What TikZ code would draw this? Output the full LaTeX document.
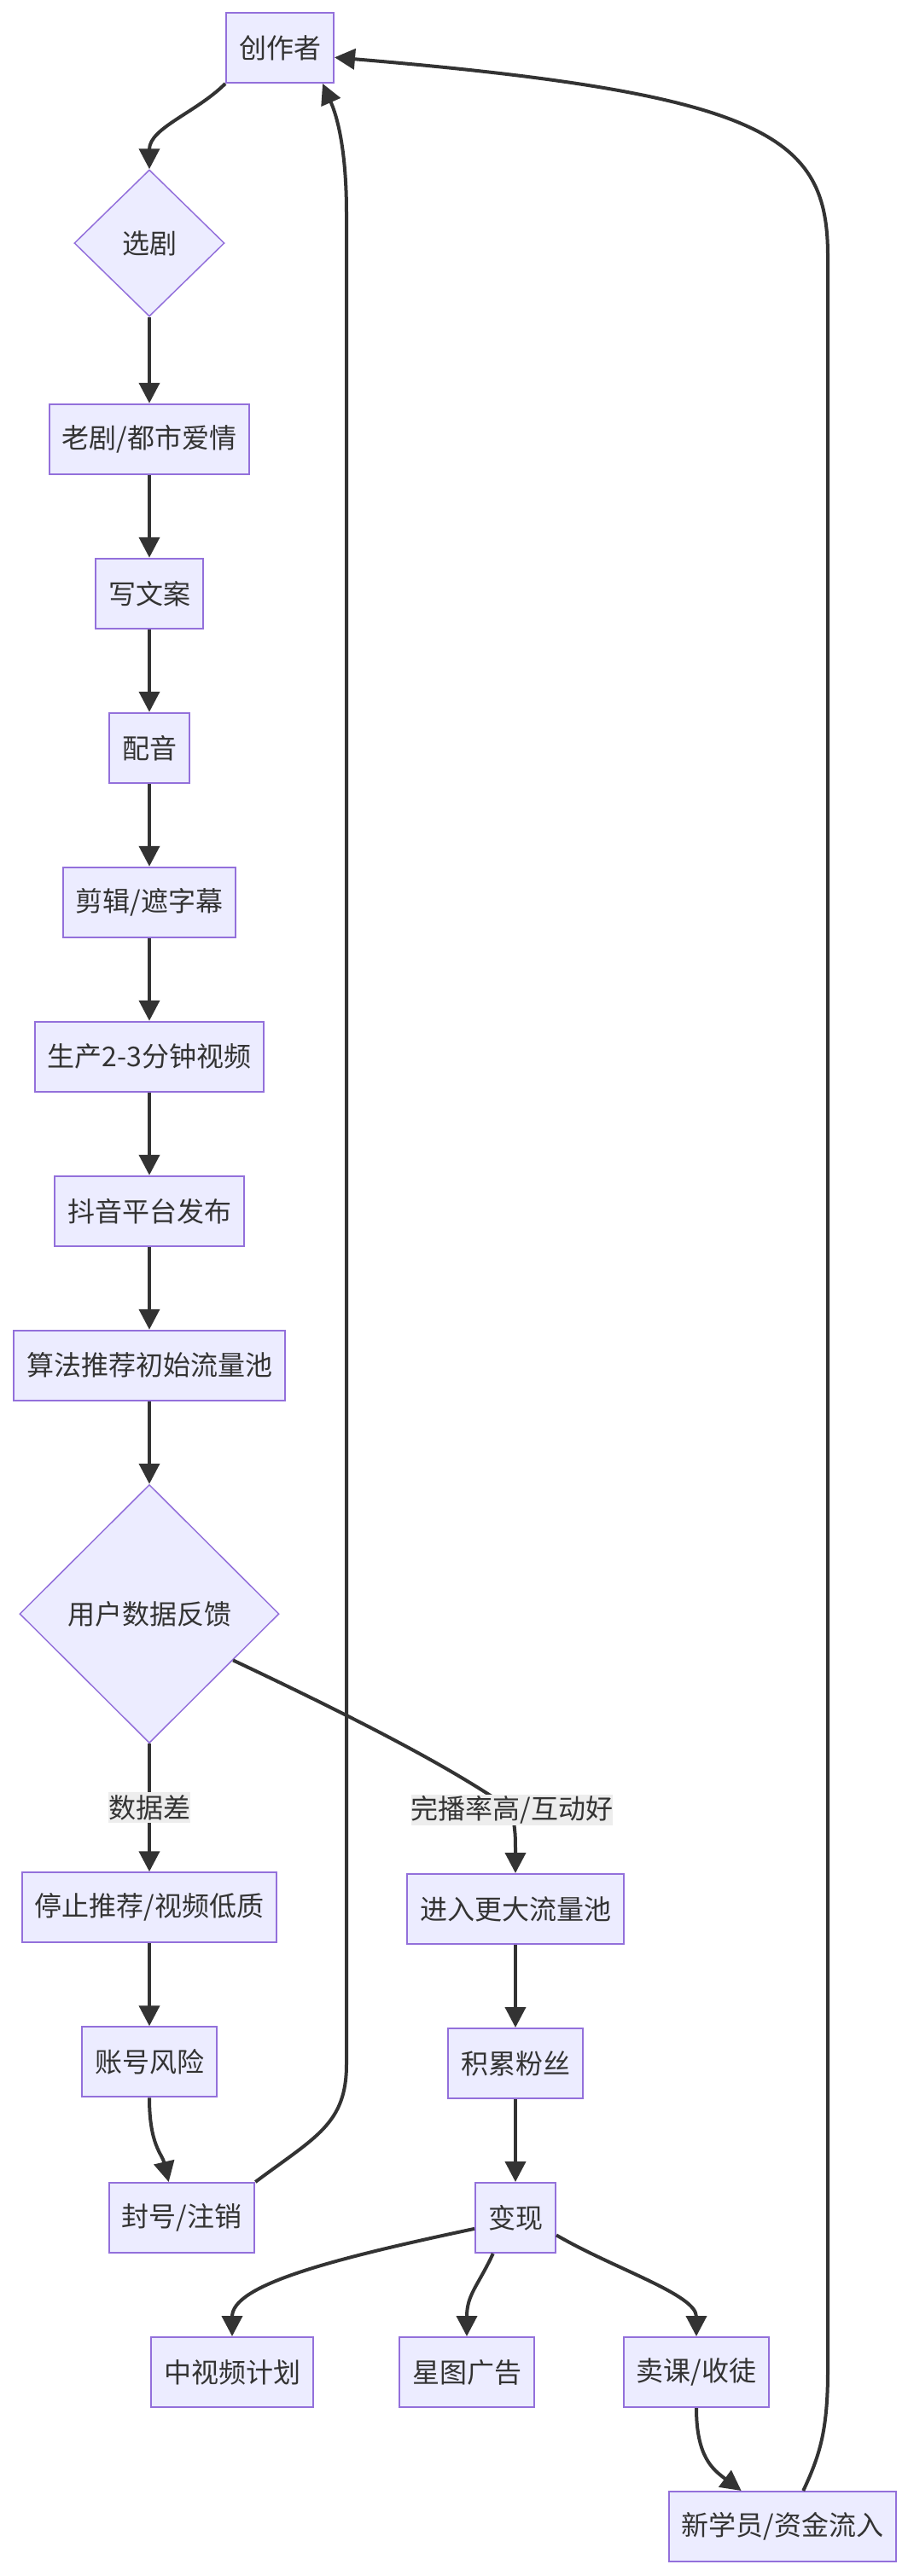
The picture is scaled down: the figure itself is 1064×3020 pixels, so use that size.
\documentclass[tikz,border=0pt]{standalone}
\usepackage{fontspec}
\setmainfont{Noto Sans CJK SC}
\usetikzlibrary{positioning, arrows.meta, shapes.geometric}
\definecolor{nodefill}{HTML}{ECECFF}
\definecolor{nodeline}{HTML}{9370DB}
\definecolor{edgeline}{HTML}{333333}
\definecolor{labelbg}{HTML}{EDEDED}

\begin{document}
\begin{tikzpicture}[
  x=1pt, y=-1pt,
  node distance=97pt,
  box/.style={draw=nodeline, fill=nodefill, line width=2pt, minimum height=82pt,
              inner xsep=15pt, inner ysep=0pt, text=edgeline,
              font=\fontsize{32pt}{38pt}\selectfont},
  choice/.style={diamond, draw=nodeline, fill=nodefill, line width=1.5pt, inner sep=0pt,
                 text=edgeline, font=\fontsize{32pt}{38pt}\selectfont},
  tag/.style={fill=labelbg, inner sep=0pt, minimum height=36pt, text=edgeline,
              font=\fontsize{32pt}{38pt}\selectfont},
  arrow/.style={-{Triangle[length=24pt, width=24pt]}, line width=4pt, edgeline}
]
  \useasboundingbox (0,0) rectangle (1064,3020);

  \node[box] (cr) at (328,56) {创作者};
  \node[choice, minimum width=176pt, minimum height=172pt] (xj) at (175,285) {选剧};
  \node[box, below=101pt of xj] (lj) {老剧/都市爱情};
  \node[box, below=of lj] (wa) {写文案};
  \node[box, below=of wa] (py) {配音};
  \node[box, below=of py] (jj) {剪辑/遮字幕};
  \node[box, below=of jj] (sc) {生产2-3分钟视频};
  \node[box, below=of sc] (fb) {抖音平台发布};
  \node[box, below=of fb] (tj) {算法推荐初始流量池};
  \node[choice, minimum width=304pt, minimum height=303pt, below=of tj] (fk) {用户数据反馈};
  \node[box, below=150pt of fk] (tz) {停止推荐/视频低质};
  \node[box, below=of tz] (zh) {账号风险};
  \node[box] (fh) at (213,2600) {封号/注销};
  \node[box] (jr) at (604,2238) {进入更大流量池};
  \node[box, below=of jr] (fs) {积累粉丝};
  \node[box, below=of fs] (bx) {变现};
  \node[box] (zsp) at (272,2781) {中视频计划};
  \node[box] (xt) at (547,2781) {星图广告};
  \node[box] (mk) at (816,2781) {卖课/收徒};
  \node[box] (xy) at (917,2962) {新学员/资金流入};

  \draw[arrow] (cr.south west) .. controls (230,132) and (175,150) .. (xj.north);
  \draw[arrow] (xj) -- (lj);
  \draw[arrow] (lj) -- (wa);
  \draw[arrow] (wa) -- (py);
  \draw[arrow] (py) -- (jj);
  \draw[arrow] (jj) -- (sc);
  \draw[arrow] (sc) -- (fb);
  \draw[arrow] (fb) -- (tj);
  \draw[arrow] (tj) -- (fk);
  \draw[arrow] (fk) -- node[tag] {数据差} (tz);
  \draw[arrow] (fk.-29) .. controls (450,2030) and (540,2080) .. (600,2122)
    node[tag] {完播率高/互动好} .. controls (604,2150) .. (jr.north);
  \draw[arrow] (tz) -- (zh);
  \draw[arrow] (zh.south) .. controls (175,2515) and (190,2525) .. (fh.110);
  \draw[arrow] (fh.north east) .. controls (370,2505) and (406,2490) .. (406,2420)
    -- (406,250) .. controls (406,160) and (390,125) .. (cr.-40);
  \draw[arrow] (jr) -- (fs);
  \draw[arrow] (fs) -- (bx);
  \draw[arrow] (bx.195) .. controls (380,2650) and (272,2680) .. (zsp.north);
  \draw[arrow] (bx.-122) .. controls (560,2680) and (547,2690) .. (xt.north);
  \draw[arrow] (bx.-23) .. controls (720,2660) and (816,2690) .. (mk.north);
  \draw[arrow] (mk.south) .. controls (816,2880) and (835,2895) .. (xy.139);
  \draw[arrow] (xy.60) .. controls (960,2880) and (970,2850) .. (970,2780)
    -- (970,300) .. controls (970,160) and (900,110) .. (cr.-10);
\end{tikzpicture}
\end{document}
